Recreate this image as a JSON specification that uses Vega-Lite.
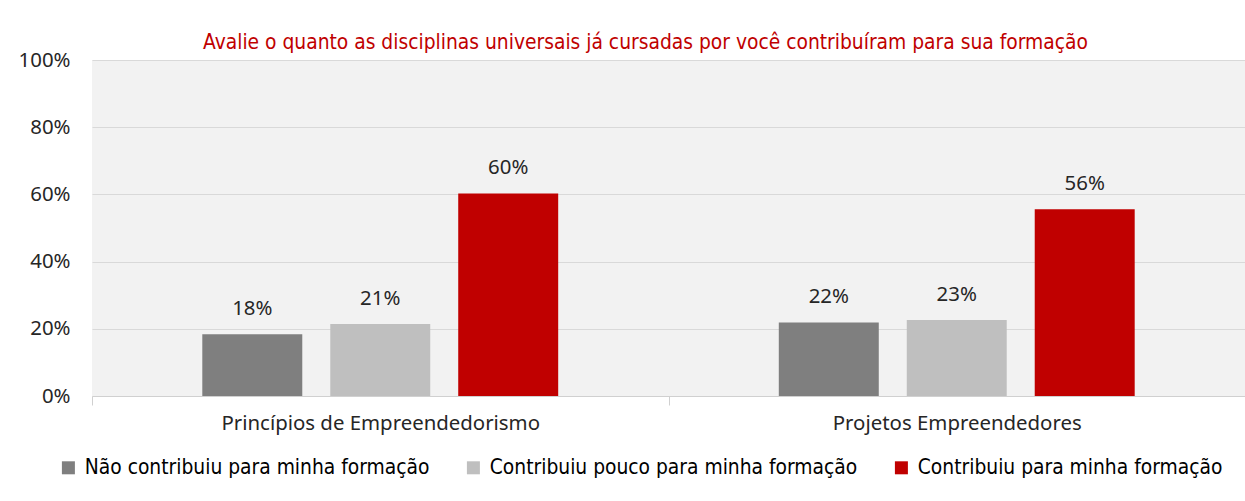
{
  "$schema": "https://vega.github.io/schema/vega-lite/v6.json",
  "width": 1153,
  "height": 336,
  "autosize": "none",
  "padding": {"left": 92, "top": 60, "right": 0, "bottom": 105},
  "background": "white",
  "title": {
    "text": "Avalie o quanto as disciplinas universais já cursadas por você contribuíram para sua formação",
    "color": "#c00000",
    "font": "DejaVu Sans Condensed, Roboto",
    "fontSize": 20.8,
    "fontWeight": "normal",
    "anchor": "middle",
    "frame": "group",
    "dx": -23,
    "dy": 6,
    "offset": 2
  },
  "config": {
    "view": {"fill": "#f2f2f2", "stroke": null},
    "font": "Noto Sans"
  },
  "data": {
    "values": [
      {"disciplina": "Princípios de Empreendedorismo", "resposta": "Não contribuiu para minha formação", "valor": 0.184},
      {"disciplina": "Princípios de Empreendedorismo", "resposta": "Contribuiu pouco para minha formação", "valor": 0.214},
      {"disciplina": "Princípios de Empreendedorismo", "resposta": "Contribuiu para minha formação", "valor": 0.603},
      {"disciplina": "Projetos Empreendedores", "resposta": "Não contribuiu para minha formação", "valor": 0.219},
      {"disciplina": "Projetos Empreendedores", "resposta": "Contribuiu pouco para minha formação", "valor": 0.226},
      {"disciplina": "Projetos Empreendedores", "resposta": "Contribuiu para minha formação", "valor": 0.556}
    ]
  },
  "encoding": {
    "x": {
      "field": "disciplina",
      "type": "nominal",
      "sort": null,
      "scale": {"paddingInner": 0, "paddingOuter": 0},
      "axis": {
        "title": null,
        "labelAngle": 0,
        "labelFont": "Noto Sans",
        "labelFontSize": 20.4,
        "labelColor": "#262626",
        "labelPadding": 8,
        "labelLimit": 600,
        "domainColor": "#d0d0d0",
        "tickColor": "#d0d0d0",
        "tickBand": "extent",
        "tickSize": 9
      }
    },
    "xOffset": {
      "field": "resposta",
      "type": "nominal",
      "sort": ["Não contribuiu para minha formação", "Contribuiu pouco para minha formação", "Contribuiu para minha formação"],
      "scale": {"paddingInner": 0.21875, "paddingOuter": 0.862}
    },
    "y": {
      "field": "valor",
      "type": "quantitative",
      "scale": {"domain": [0, 1]},
      "axis": {
        "title": null,
        "format": ".0%",
        "values": [0, 0.2, 0.4, 0.6, 0.8, 1],
        "domain": false,
        "ticks": false,
        "labelFont": "Noto Sans",
        "labelFontSize": 20.4,
        "labelColor": "#262626",
        "labelPadding": 22,
        "gridColor": "#d9d9d9",
        "gridWidth": 1
      }
    }
  },
  "layer": [
    {
      "mark": {"type": "bar"},
      "encoding": {
        "color": {
          "field": "resposta",
          "type": "nominal",
          "sort": ["Não contribuiu para minha formação", "Contribuiu pouco para minha formação", "Contribuiu para minha formação"],
          "scale": {
            "domain": ["Não contribuiu para minha formação", "Contribuiu pouco para minha formação", "Contribuiu para minha formação"],
            "range": ["#7f7f7f", "#bfbfbf", "#c00000"]
          },
          "legend": {
            "title": null,
            "orient": "none",
            "direction": "horizontal",
            "legendX": -34,
            "legendY": 397,
            "symbolType": "square",
            "symbolSize": 169,
            "symbolStrokeWidth": 0,
            "labelFont": "DejaVu Sans Condensed, Roboto",
            "labelFontSize": 20.8,
            "labelColor": "#000000",
            "labelLimit": 500,
            "labelOffset": 6,
            "columnPadding": 33
          }
        }
      }
    },
    {
      "mark": {"type": "text", "baseline": "middle", "dy": -25, "fontSize": 20.4, "font": "Noto Sans", "color": "#262626"},
      "encoding": {
        "text": {"field": "valor", "type": "quantitative", "format": ".0%"}
      }
    }
  ]
}
